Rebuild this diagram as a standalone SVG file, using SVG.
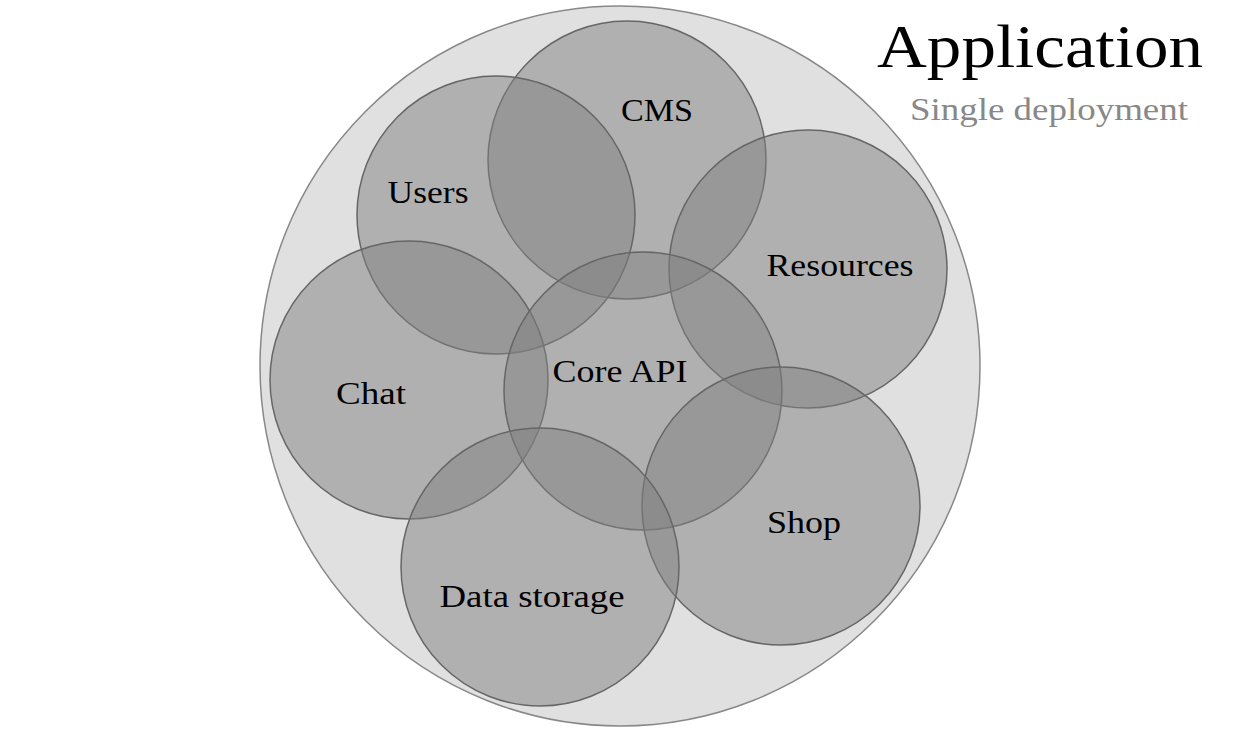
<svg xmlns="http://www.w3.org/2000/svg" width="1248" height="732" viewBox="0 0 1248 732">
<style>
.mod{fill:#808080;fill-opacity:0.5;stroke:#666;stroke-width:1.5}
.lbl{font-family:"Liberation Serif","DejaVu Serif",serif;font-size:32px;fill:#000;text-anchor:middle}
</style>
<rect width="1248" height="732" fill="#fff"/>
<g id="app">
<circle cx="620" cy="366" r="360" fill="#e0e0e0" stroke="#888" stroke-width="1.5"/>
<text x="1040" y="67" font-family="'Liberation Serif','DejaVu Serif',serif" font-size="62" text-anchor="middle" textLength="326" lengthAdjust="spacingAndGlyphs">Application</text>
<text x="1049" y="120" font-family="'Liberation Serif','DejaVu Serif',serif" font-size="31" fill="#888" text-anchor="middle" textLength="278" lengthAdjust="spacingAndGlyphs">Single deployment</text>
</g>
<g id="cms"><circle class="mod" cx="627" cy="160" r="139"/><text class="lbl" x="657" y="121" textLength="72" lengthAdjust="spacingAndGlyphs">CMS</text></g>
<g id="users"><circle class="mod" cx="496" cy="215" r="139"/><text class="lbl" x="428" y="203" textLength="81" lengthAdjust="spacingAndGlyphs">Users</text></g>
<g id="resources"><circle class="mod" cx="808" cy="269" r="139"/><text class="lbl" x="840" y="276" textLength="147" lengthAdjust="spacingAndGlyphs">Resources</text></g>
<g id="chat"><circle class="mod" cx="409" cy="380" r="139"/><text class="lbl" x="371" y="404" textLength="70" lengthAdjust="spacingAndGlyphs">Chat</text></g>
<g id="core"><circle class="mod" cx="643" cy="391" r="139"/><text class="lbl" x="620" y="382" textLength="135" lengthAdjust="spacingAndGlyphs">Core API</text></g>
<g id="shop"><circle class="mod" cx="781" cy="506" r="139"/><text class="lbl" x="804" y="533" textLength="74" lengthAdjust="spacingAndGlyphs">Shop</text></g>
<g id="data"><circle class="mod" cx="540" cy="567" r="139"/><text class="lbl" x="532" y="607" textLength="185" lengthAdjust="spacingAndGlyphs">Data storage</text></g>
<g id="connectors"></g>
</svg>
